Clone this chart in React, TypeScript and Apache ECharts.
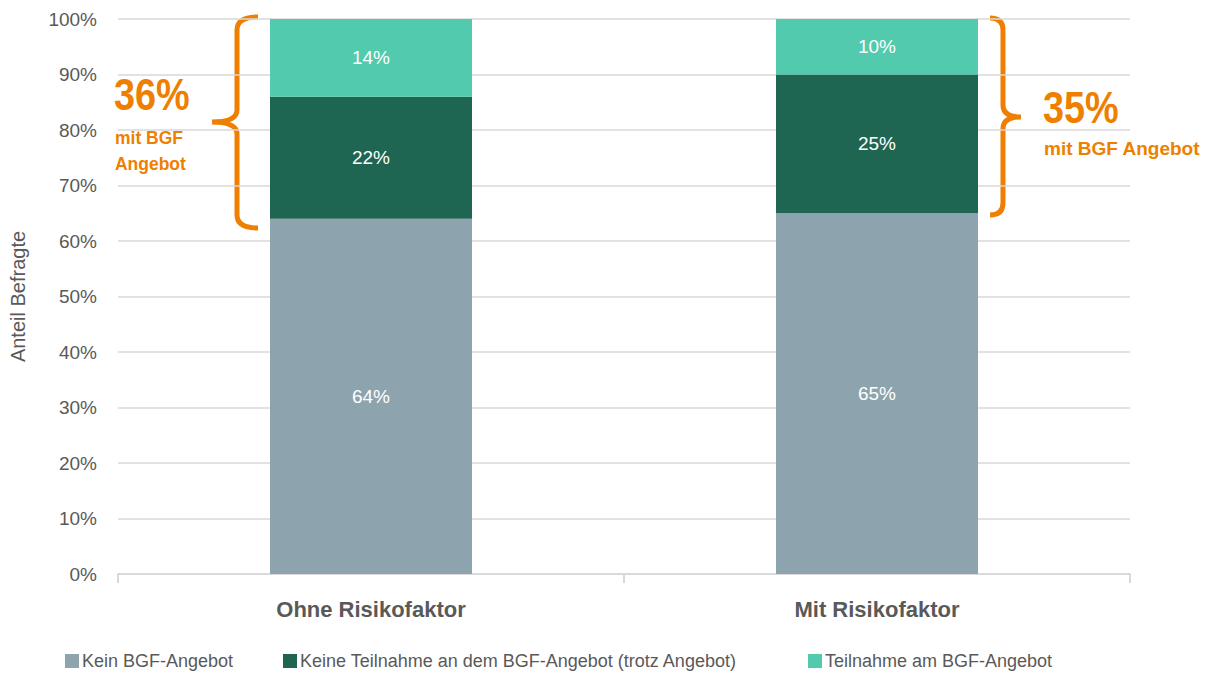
import React, { useEffect, useRef } from "react";
import * as echarts from "echarts";

const categories = ["Ohne Risikofaktor", "Mit Risikofaktor"];
const seriesNames = [
  "Kein BGF-Angebot",
  "Keine Teilnahme an dem BGF-Angebot (trotz Angebot)",
  "Teilnahme am BGF-Angebot",
];
const keinAngebot = [64, 65];
const keineTeilnahme = [22, 25];
const teilnahme = [14, 10];
const colors = ["#8DA3AE", "#1F6652", "#51CAAD"];
const yTicks = [0, 10, 20, 30, 40, 50, 60, 70, 80, 90, 100];
const legendLefts = [65, 283, 808];

const FONT = "'Liberation Sans Narrow', 'Arial Narrow', 'Liberation Sans', Arial, sans-serif";
const ORANGE = "#EE7F00";

echarts.graphic.registerShape(
  "braceLeft",
  echarts.graphic.extendPath(
    "M258,17 Q237,17 237,30 L237,110 Q237,122 212,122 Q237,122 237,134 L237,215 Q237,228 258,228",
    {}
  )
);
echarts.graphic.registerShape(
  "braceRight",
  echarts.graphic.extendPath(
    "M990,18 Q1003,18 1003,30 L1003,105 Q1003,117 1021,117 Q1003,117 1003,129 L1003,203 Q1003,215 990,215",
    {}
  )
);

export default function App() {
  const ref = useRef<HTMLDivElement>(null);
  useEffect(() => {
    const chart = echarts.init(ref.current!, null, { renderer: "svg" });
    const data = [keinAngebot, keineTeilnahme, teilnahme];
    chart.setOption({
      animation: false,
      textStyle: { fontFamily: FONT },
      grid: { left: 116, right: 78, top: 19, bottom: 100 },
      legend: seriesNames.map((name, i) => ({
        left: legendLefts[i],
        bottom: 4,
        padding: 0,
        itemWidth: 14,
        itemHeight: 14,
        icon: "rect",
        textStyle: { fontFamily: FONT, fontSize: 18, color: "#595959", padding: [0, 0, 0, -2] },
        data: [name],
      })),
      xAxis: {
        type: "category",
        data: categories,
        axisLine: { lineStyle: { color: "#D9D9D9", width: 2 } },
        axisTick: { show: true, length: 9, lineStyle: { color: "#D9D9D9", width: 2 } },
        axisLabel: {
          fontFamily: FONT,
          fontSize: 22,
          fontWeight: "bold",
          color: "#595959",
          margin: 24,
        },
      },
      yAxis: {
        type: "value",
        min: 0,
        max: 100,
        interval: 10,
        name: "Anteil Befragte",
        nameLocation: "middle",
        nameGap: 90,
        nameTextStyle: { fontFamily: FONT, fontSize: 20, color: "#595959" },
        axisLine: { show: false },
        axisTick: { show: false },
        splitLine: { lineStyle: { color: "#D9D9D9", width: 1.5 } },
        axisLabel: {
          fontFamily: FONT,
          fontSize: 19,
          color: "#595959",
          margin: 21,
          formatter: (v: number) => (yTicks.includes(v) ? v + "%" : ""),
        },
      },
      series: seriesNames.map((name, i) => ({
        name,
        type: "bar",
        stack: "total",
        barWidth: 202,
        data: data[i],
        itemStyle: { color: colors[i] },
        label: {
          show: true,
          position: "inside",
          color: "#FFFFFF",
          fontFamily: FONT,
          fontSize: 19,
          formatter: (p: any) => p.value + "%",
        },
      })),
      graphic: [
        { type: "braceLeft", x: 0, y: 0, style: { fill: "none", stroke: ORANGE, lineWidth: 5 } },
        { type: "braceRight", x: 0, y: 0, style: { fill: "none", stroke: ORANGE, lineWidth: 5 } },
        {
          type: "text",
          x: 114,
          y: 73,
          scaleX: 0.86,
          style: { text: "36%", fontFamily: FONT, fontSize: 44, fontWeight: "bold", fill: ORANGE },
        },
        {
          type: "text",
          x: 115,
          y: 124,
          scaleX: 0.92,
          style: {
            text: "mit BGF\nAngebot",
            fontFamily: FONT,
            fontSize: 19,
            lineHeight: 26,
            fontWeight: "bold",
            fill: ORANGE,
          },
        },
        {
          type: "text",
          x: 1043,
          y: 86,
          scaleX: 0.86,
          style: { text: "35%", fontFamily: FONT, fontSize: 44, fontWeight: "bold", fill: ORANGE },
        },
        {
          type: "text",
          x: 1044,
          y: 139,
          style: {
            text: "mit BGF Angebot",
            fontFamily: FONT,
            fontSize: 19,
            fontWeight: "bold",
            fill: ORANGE,
          },
        },
      ],
    });
    return () => chart.dispose();
  }, []);
  return (
    <div
      ref={ref}
      style={{ position: "fixed", left: 0, top: 0, width: 1208, height: 674, background: "#fff" }}
    />
  );
}
